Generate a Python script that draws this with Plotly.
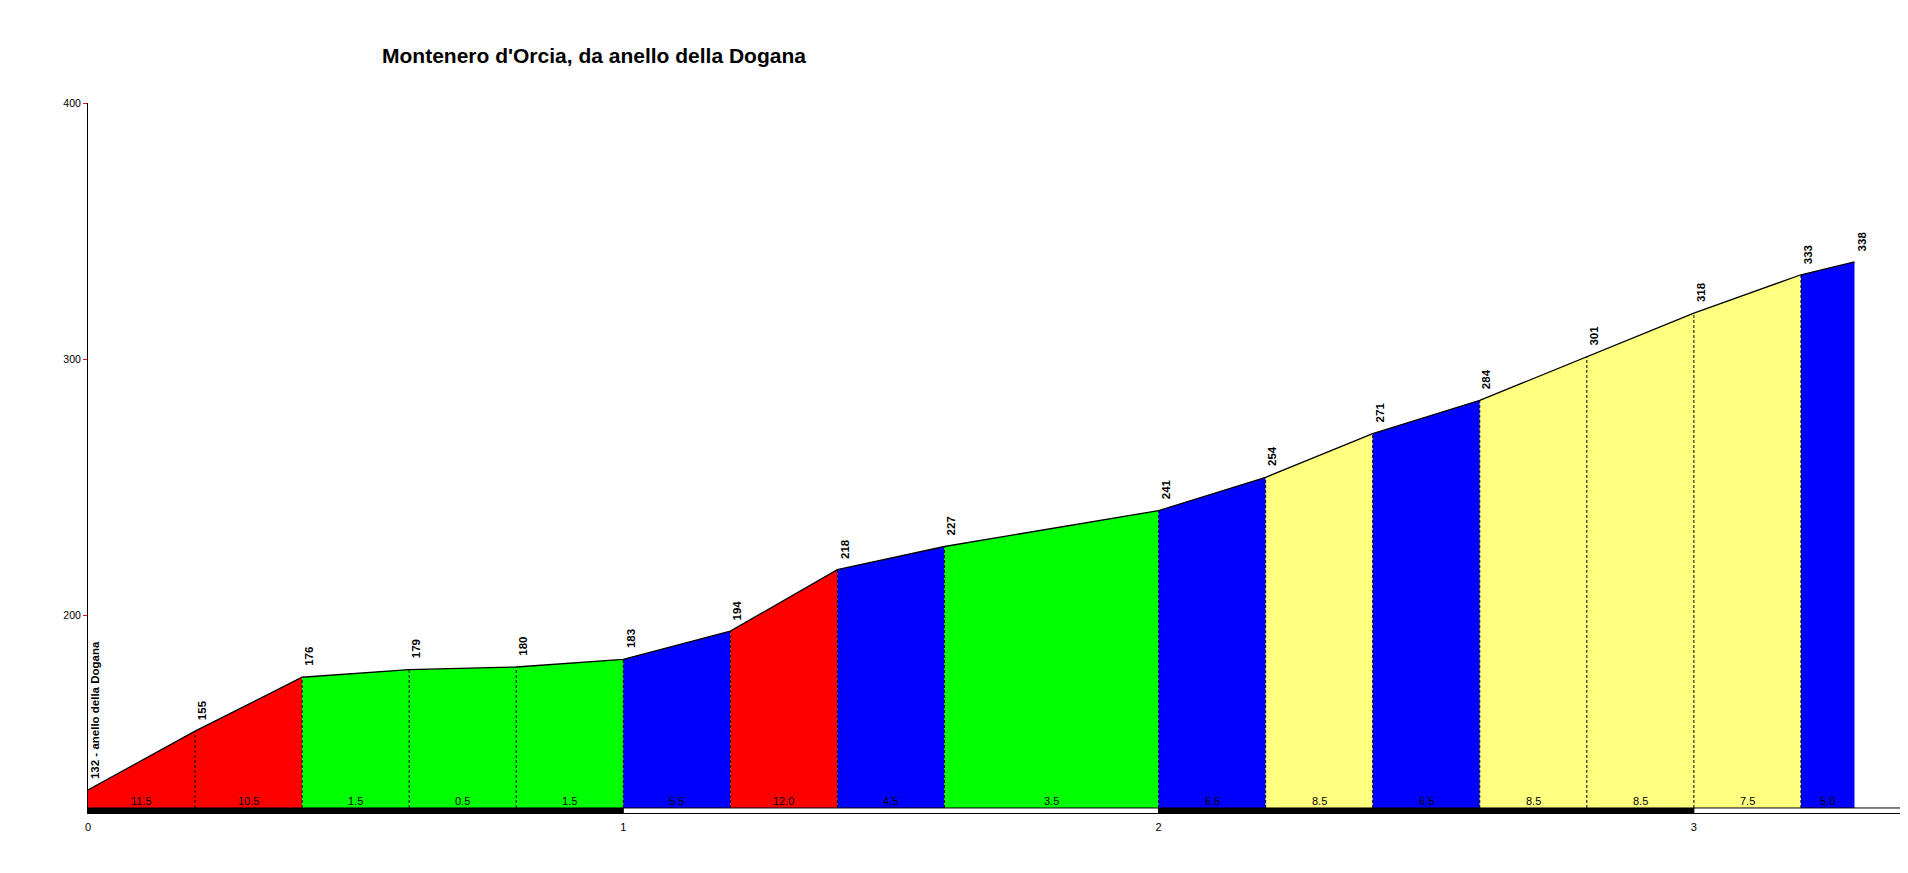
import plotly.graph_objects as go

# ---- data ----
title_text = "Montenero d'Orcia, da anello della Dogana"
start_name = "anello della Dogana"
dist_km = [0.0, 0.2, 0.4, 0.6, 0.8, 1.0, 1.2, 1.4, 1.6, 2.0, 2.2, 2.4, 2.6, 2.8, 3.0, 3.2, 3.3]
elev_m = [132, 155, 176, 179, 180, 183, 194, 218, 227, 241, 254, 271, 284, 301, 318, 333, 338]
grade_pct = [11.5, 10.5, 1.5, 0.5, 1.5, 5.5, 12.0, 4.5, 3.5, 6.5, 8.5, 6.5, 8.5, 8.5, 7.5, 5.0]
y_ticks = [200, 300, 400]
x_ticks = [0, 1, 2, 3]
km_bar = [(0, 1, "black"), (1, 2, "white"), (2, 3, "black"), (3, 3.4, "white")]

BASE = 125.0
YMIN = 122.65
YMAX = 400
XMAX = 3.4
FONT = "Arial, Liberation Sans, sans-serif"
OFF = 8  # page body margin


def grade_color(g):
    if g < 4:
        return "#00FF00"
    if g < 7:
        return "#0000FF"
    if g < 10:
        return "#FFFF80"
    return "#FF0000"


fig = go.Figure()

# filled segments
for i, g in enumerate(grade_pct):
    x0, x1 = dist_km[i], dist_km[i + 1]
    e0, e1 = elev_m[i], elev_m[i + 1]
    fig.add_trace(go.Scatter(
        x=[x0, x0, x1, x1, x0], y=[BASE, e0, e1, BASE, BASE],
        mode="lines", fill="toself", fillcolor=grade_color(g),
        line=dict(width=0), hoverinfo="skip", showlegend=False))

# dashed separators
dx, dy = [], []
for i in range(1, len(dist_km) - 1):
    dx += [dist_km[i], dist_km[i], None]
    dy += [BASE, elev_m[i], None]
fig.add_trace(go.Scatter(x=dx, y=dy, mode="lines",
                         line=dict(color="black", width=1, dash="3px,2px"),
                         hoverinfo="skip", showlegend=False))

# profile line
fig.add_trace(go.Scatter(x=dist_km, y=elev_m, mode="lines",
                         line=dict(color="black", width=1.3),
                         hoverinfo="skip", showlegend=False))

annotations = []
# elevation labels
for i, (d, e) in enumerate(zip(dist_km, elev_m)):
    txt = f"{e} - {start_name}" if i == 0 else f"{e}"
    annotations.append(dict(x=d, y=e, xref="x", yref="y", text=f"<b>{txt}</b>", textangle=-90,
                            showarrow=False, xanchor="center", yanchor="bottom",
                            xshift=7, yshift=9, font=dict(family=FONT, size=11.5, color="black")))
# grade labels
for i, g in enumerate(grade_pct):
    xm = (dist_km[i] + dist_km[i + 1]) / 2
    annotations.append(dict(x=xm, y=BASE, xref="x", yref="y", text=f"{g:.1f}",
                            showarrow=False, xanchor="center", yanchor="bottom",
                            yshift=-1, font=dict(family=FONT, size=11, color="black")))

shapes = []
for a, b, c in km_bar:
    shapes.append(dict(type="rect", xref="x", yref="y", x0=a, x1=b, y0=YMIN + 0.2, y1=BASE,
                       fillcolor=c, line=dict(color="black", width=1), layer="above"))

fig.update_layout(
    width=1908 - OFF, height=873 - OFF,
    margin=dict(l=88 - OFF, r=0, t=103 - OFF, b=59),
    paper_bgcolor="white", plot_bgcolor="white",
    title=dict(text=f"<b>{title_text}</b>", x=(594 - OFF) / (1908 - OFF), xanchor="center",
               y=1 - (56 - OFF) / (873 - OFF), yanchor="middle",
               font=dict(family=FONT, size=21, color="black")),
    xaxis=dict(range=[0, XMAX], tickvals=x_ticks, ticktext=[str(t) for t in x_ticks],
               showgrid=False, zeroline=False, showline=False,
               ticks="outside", ticklen=3, tickcolor="rgba(0,0,0,0)",
               tickfont=dict(family=FONT, size=11, color="black")),
    yaxis=dict(range=[YMIN, YMAX], tickvals=y_ticks, ticktext=[str(t) for t in y_ticks],
               showgrid=False, zeroline=False, showline=True, linecolor="black", linewidth=1,
               ticks="outside", ticklen=4, tickcolor="red",
               tickfont=dict(family=FONT, size=10.5, color="black")),
    annotations=annotations,
    shapes=shapes,
    showlegend=False,
)

fig.write_html("out.html")
